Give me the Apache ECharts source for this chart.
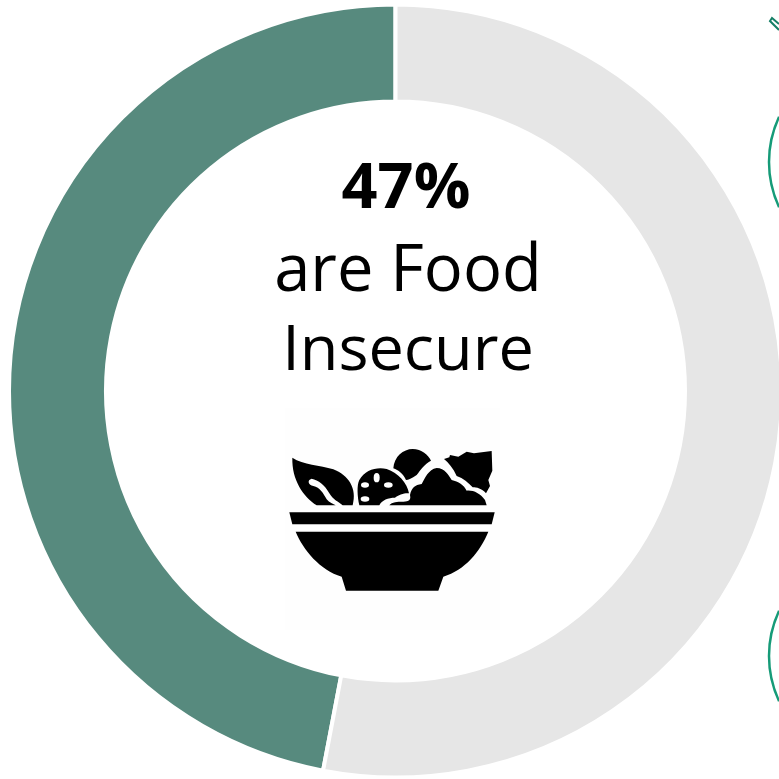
<!DOCTYPE html>
<html><head><meta charset="utf-8">
<style>html,body{margin:0;padding:0;background:#fff}#c{width:779px;height:779px}</style>
<script src="https://cdn.jsdelivr.net/npm/echarts@6/dist/echarts.min.js"></script>
</head><body><div id="c"></div>
<script>
var categories=['Food Insecure','Not Food Insecure'];
var values=[47,53];
var colors=['#578a7e','#e6e6e6'];
var headline='47%';
var captionLines=['are Food','Insecure'];
var iconBlack=[
 'M58 337 L674 337 L665 373 L67 373 Z',
 'M77 395 L655 395 C630 455 585 510 520 530 L505 572 L228 572 L215 530 C150 510 100 450 77 395 Z',
 'M67 173 C100 195 150 195 190 208 C235 225 262 265 248 316 L218 316 C205 305 190 300 178 280 C165 255 145 240 125 236 C110 240 115 255 130 258 C150 262 160 280 170 298 C178 308 190 312 197 316 L140 316 C100 290 65 240 67 173 Z',
 'M268 316 C262 290 260 255 268 240 C285 210 320 200 350 207 C385 218 412 250 417 280 C405 278 385 285 375 293 C355 293 335 300 328 316 Z',
 'M370 205 C372 170 400 147 428 147 C455 147 475 165 483 182 C465 190 452 210 440 225 C425 235 415 240 408 240 C400 222 385 210 370 205 Z',
 'M358 316 C365 305 385 305 395 305 C410 305 425 305 420 285 C425 262 435 255 455 252 C465 235 475 208 500 204 C525 204 535 225 545 240 C565 245 582 255 590 272 C610 270 630 280 645 300 L650 316 Z',
 'M522 177 L538 172 L540 165 L565 170 L590 155 L612 160 L665 153 L667 212 L655 240 L660 258 L648 280 C635 265 620 262 608 262 C595 248 580 235 560 228 C550 205 535 188 522 177 Z'
];
var iconSeeds=[[320,233,9,14],[285,255,12,8],[355,255,13,8],[285,297,13,8]];
var arcSpan=0.14*Math.PI;
var g=[
 {type:'rect',shape:{x:285,y:408,width:215,height:222},style:{fill:'#fefefe'},z:1},
 {type:'text',x:406,y:190,style:{text:headline,font:'bold 63px "Open Sans"',fill:'#000',align:'center',verticalAlign:'middle'},z:5},
 {type:'text',x:408,y:272,style:{text:captionLines[0],font:'65px "Open Sans"',fill:'#000',align:'center',verticalAlign:'middle'},z:5},
 {type:'text',x:408,y:352,style:{text:captionLines[1],font:'63px "Open Sans"',fill:'#000',align:'center',verticalAlign:'middle'},z:5},
 {type:'arc',shape:{cx:875,cy:162,r:106,startAngle:Math.PI-arcSpan,endAngle:Math.PI+arcSpan},style:{stroke:'#169b78',lineWidth:2.5,fill:null},z:5},
 {type:'arc',shape:{cx:875,cy:656,r:106,startAngle:Math.PI-arcSpan,endAngle:Math.PI+arcSpan},style:{stroke:'#169b78',lineWidth:2.5,fill:null},z:5},
 {type:'polyline',shape:{points:[[779,30],[770,21],[772,18],[779,24]]},style:{stroke:'#157f66',lineWidth:2,fill:null},z:5}
];
iconSeeds.forEach(function(s){
 g.push({type:'circle',shape:{cx:0,cy:0,r:1},x:270+s[0]/3,y:400+s[1]/3,scaleX:s[2]/3,scaleY:s[3]/3,style:{fill:'#fff'},z:20});
});
var chart=echarts.init(document.getElementById('c'),null,{renderer:'canvas'});
chart.setOption({
 animation:false,
 series:[
 {type:'pie',center:[395.5,391],radius:[289.5,386.5],startAngle:90,clockwise:false,
  label:{show:false},labelLine:{show:false},silent:true,
  itemStyle:{borderColor:'#fff',borderWidth:4},
  data:categories.map(function(n,i){return {name:n,value:values[i],itemStyle:{color:colors[i]}};})},
 {type:'custom',coordinateSystem:'none',silent:true,z:10,data:[0],
  renderItem:function(){
   return {type:'group',children:iconBlack.map(function(p){
    return {type:'path',x:270,y:400,scaleX:1/3,scaleY:1/3,shape:{pathData:p},style:{fill:'#000'}};
   })};
  }}
 ],
 graphic:g
});
</script></body></html>
